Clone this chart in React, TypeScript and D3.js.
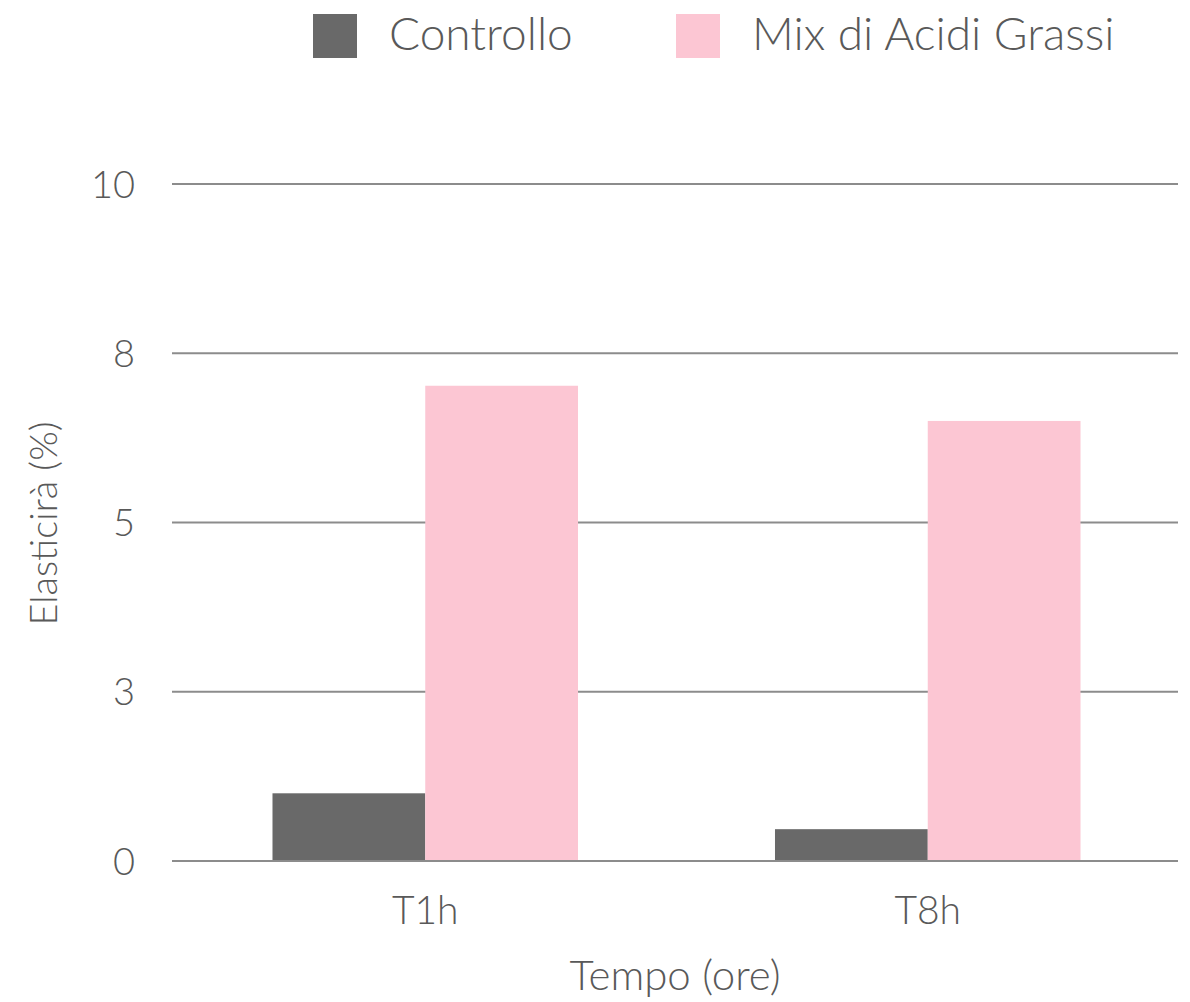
import React from "react";
import * as d3 from "d3";

const categories = ["T1h", "T8h"];
const seriesNames = ["Controllo", "Mix di Acidi Grassi"];
const controlloValues = [1.0, 0.47];
const mixValues = [7.02, 6.5];
const yTicks = [0, 2.5, 5, 7.5, 10];
const seriesColors = ["#696969", "#FCC6D3"];

const W = 1190;
const H = 1002;
const margin = { left: 172, right: 12, top: 184, bottom: 141 };
const FONT = "Lato, 'Open Sans', sans-serif";
const TEXT = "#595959";

export default function App() {
  const x = d3
    .scaleBand<string>()
    .domain(categories)
    .range([174, 1179])
    .paddingInner(0.392)
    .paddingOuter(0.196);
  const sub = d3
    .scaleBand<string>()
    .domain(seriesNames)
    .range([0, x.bandwidth()]);
  const y = d3
    .scaleLinear()
    .domain([0, 10])
    .range([H - margin.bottom, margin.top]);
  const series = [controlloValues, mixValues];

  return (
    <svg
      width={W}
      height={H}
      style={{ position: "absolute", left: 0, top: 0, background: "#fff" }}
    >
      {yTicks.map((t) => (
        <g key={t}>
          <line
            x1={margin.left}
            x2={W - margin.right}
            y1={y(t)}
            y2={y(t)}
            stroke="#8c8c8c"
            strokeWidth={2}
          />
          <text
            x={135}
            y={y(t)}
            dy="0.36em"
            textAnchor="end"
            fontFamily={FONT}
            fontWeight={300}
            fontSize={38}
            fill={TEXT}
          >
            {Math.round(t)}
          </text>
        </g>
      ))}
      {categories.map((c, i) =>
        seriesNames.map((s, j) => (
          <rect
            key={c + s}
            x={(x(c) as number) + (sub(s) as number)}
            y={y(series[j][i])}
            width={sub.bandwidth()}
            height={y(0) - y(series[j][i])}
            fill={seriesColors[j]}
          />
        ))
      )}
      <line
        x1={margin.left}
        x2={W - margin.right}
        y1={y(0)}
        y2={y(0)}
        stroke="#8c8c8c"
        strokeWidth={2}
      />
      {categories.map((c) => (
        <text
          key={c}
          x={(x(c) as number) + x.bandwidth() / 2}
          y={924}
          textAnchor="middle"
          fontFamily={FONT}
          fontWeight={300}
          fontSize={39}
          fill={TEXT}
        >
          {c}
        </text>
      ))}
      <text
        x={675}
        y={990}
        textAnchor="middle"
        fontFamily={FONT}
        fontWeight={300}
        fontSize={42}
        fill={TEXT}
      >
        Tempo (ore)
      </text>
      <text
        transform={`translate(57, ${y(5) + 1}) rotate(-90)`}
        textAnchor="middle"
        fontFamily={FONT}
        fontWeight={300}
        fontSize={38}
        fill={TEXT}
      >
        Elasticirà (%)
      </text>
      {seriesNames.map((s, j) => {
        const sx = [313, 676][j];
        return (
          <g key={s}>
            <rect x={sx} y={14} width={44} height={44} fill={seriesColors[j]} />
            <text
              x={sx + 76}
              y={50}
              fontFamily={FONT}
              fontWeight={300}
              fontSize={46}
              fill={TEXT}
            >
              {s}
            </text>
          </g>
        );
      })}
    </svg>
  );
}
